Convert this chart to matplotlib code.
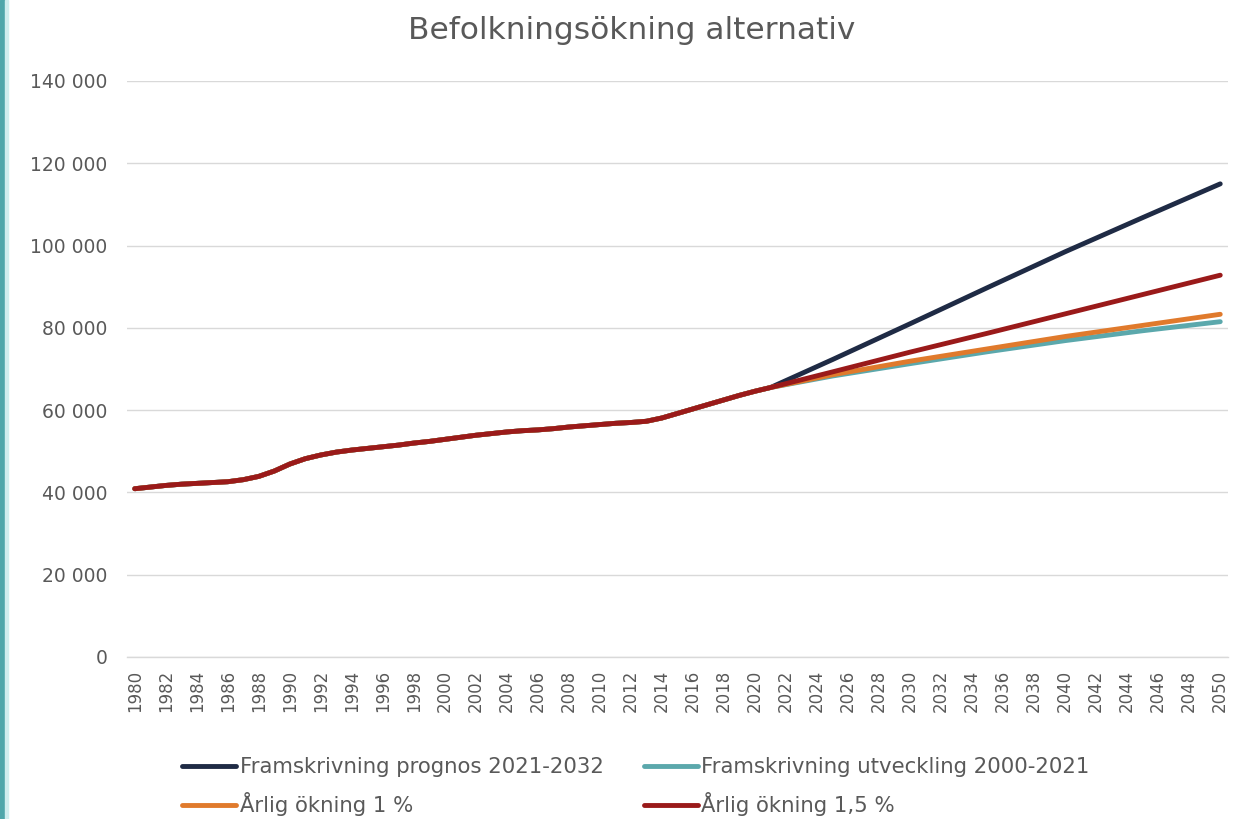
import numpy as np
import matplotlib.pyplot as plt
from matplotlib.patches import Rectangle
from matplotlib.ticker import FuncFormatter

# historical population (same for all series up to 2021)
hist_years = list(range(1980, 2022))
hist_pop = [40900, 41300, 41700, 42000, 42200, 42400, 42600, 43100, 43900, 45200,
            46900, 48200, 49100, 49800, 50300, 50700, 51100, 51500, 52000, 52400,
            52900, 53400, 53900, 54300, 54700, 55000, 55200, 55500, 55900, 56200,
            56500, 56800, 57000, 57300, 58100, 59200, 60300, 61400, 62500, 63600,
            64600, 65500]

# projections
proj_years = [2021, 2025, 2030, 2035, 2040, 2045, 2050]
prognos = [65500, 72300, 81000, 89800, 98500, 106800, 115000]
utveckling = [65500, 68300, 71300, 74200, 76900, 79300, 81500]
okning_1 = [65500, 68600, 71900, 74900, 77900, 80600, 83300]
okning_15 = [65500, 69300, 74100, 78700, 83400, 88100, 92800]

labels = ["Framskrivning prognos 2021-2032", "Framskrivning utveckling 2000-2021",
          "Årlig ökning 1 %", "Årlig ökning 1,5 %"]
colors = ["#1F2B45", "#5BA8AC", "#E07A2C", "#9A1A1A"]

grey = "#595959"
plt.rcParams['font.family'] = ['DejaVu Sans']

fig = plt.figure(figsize=(12.48, 8.19), dpi=100)
ax = fig.add_axes([127/1248, 1 - 657/819, (1228-127)/1248, (657-81)/819])

lines = []
for proj, lab, col in zip([prognos, utveckling, okning_1, okning_15], labels, colors):
    x = hist_years[:-1] + proj_years
    y = hist_pop[:-1] + proj
    ln, = ax.plot(x, y, color=col, lw=3.5, label=lab, solid_capstyle='round')
    lines.append(ln)

ax.set_xlim(1979.5, 2050.5)
ax.set_ylim(0, 140000)
ax.set_yticks(np.arange(0, 140001, 20000))
ax.yaxis.set_major_formatter(FuncFormatter(lambda v, p: f"{int(v):,}".replace(",", " ")))
ax.set_xticks(range(1980, 2051, 2))
ax.tick_params(axis='x', rotation=90, length=0, pad=9, labelsize=12, colors=grey)
ax.tick_params(axis='y', length=0, pad=14, labelsize=13.5, colors=grey)
ax.grid(axis='y', color="#D9D9D9", lw=1)
ax.axhline(0, color="#D9D9D9", lw=1, clip_on=False, zorder=0)
ax.set_axisbelow(True)
for s in ax.spines.values():
    s.set_visible(False)

fig.text(0.506, 0.963, "Befolkningsökning alternativ", ha='center', va='center',
         fontsize=22.5, color=grey)

handles = [lines[0], lines[2], lines[1], lines[3]]
fig.legend(handles, [h.get_label() for h in handles], ncol=2, loc='upper left',
           bbox_to_anchor=(163/1248, 1 - 738/819), frameon=False, fontsize=15.3,
           handlelength=2.55, handletextpad=0.15, columnspacing=1.9,
           labelspacing=0.7, labelcolor=grey)

# window border on the left edge
fig.patches.append(Rectangle((0, 0), 5/1248, 1, transform=fig.transFigure,
                             color="#4FA6AA", zorder=5))
fig.patches.append(Rectangle((5/1248, 0), 3/1248, 1, transform=fig.transFigure,
                             color="#CFEDEE", zorder=5))

fig.savefig("out.png", dpi=100)
